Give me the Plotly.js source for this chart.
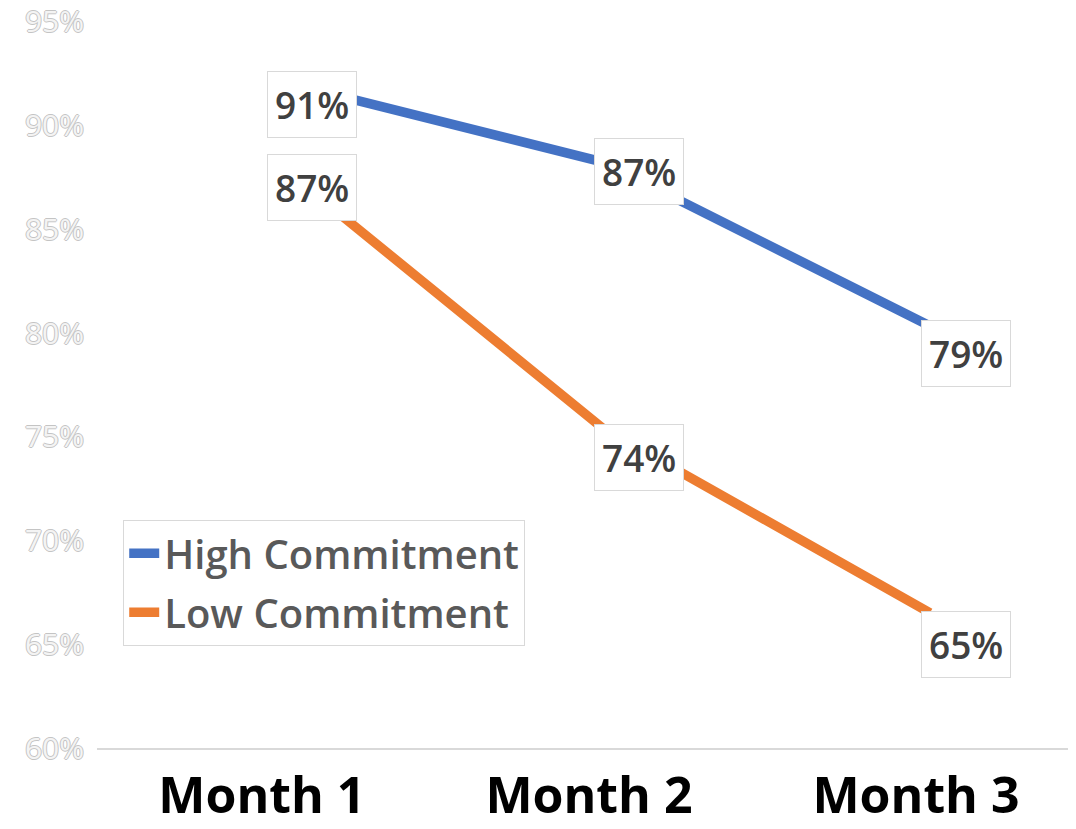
<!DOCTYPE html>
<html>
<head>
<meta charset="utf-8">
<script src="https://cdn.plot.ly/plotly-3.0.1.min.js"></script>
<style>
  html, body { margin: 0; padding: 0; background: #ffffff; }
  #chart { width: 1076px; height: 829px; }
</style>
</head>
<body>
<div id="chart"></div>
<script>
// ---- data ----
const categories = ['Month 1', 'Month 2', 'Month 3'];
const highCommitment = [0.91, 0.87, 0.79];
const lowCommitment = [0.87, 0.74, 0.65];
const seriesNames = ['High Commitment', 'Low Commitment'];
const yTickMin = 0.60;
const yTickStep = 0.05;

// ---- styling ----
const BLUE = '#4472C4';
const ORANGE = '#ED7D31';
const FONT = 'Open Sans, Liberation Sans, sans-serif';

const traces = [
  {
    type: 'scatter', mode: 'lines', name: seriesNames[0],
    x: categories, y: highCommitment, xaxis: 'x', yaxis: 'y',
    line: { color: BLUE, width: 9.5 }, legendgroup: 'a', hoverinfo: 'skip'
  },
  {
    type: 'scatter', mode: 'lines', name: seriesNames[1],
    x: categories, y: lowCommitment, xaxis: 'x', yaxis: 'y',
    line: { color: ORANGE, width: 9.5 }, legendgroup: 'b', hoverinfo: 'skip'
  }
];

function label(cat, val, extraY) {
  return {
    x: cat, y: val, xref: 'x', yref: 'y2',
    text: Math.round(val * 100) + '%',
    showarrow: false, xshift: 36, yshift: extraY || 0,
    bgcolor: '#ffffff', bordercolor: '#d9d9d9', borderwidth: 1, borderpad: 7,
    font: { family: FONT, size: 37, color: '#404040', weight: 600 }
  };
}
const annotations = [];
categories.forEach((c, i) => {
  annotations.push(label(c, highCommitment[i], i === 1 ? 16 : 0));
  annotations.push(label(c, lowCommitment[i], 0));
});

const layout = {
  width: 1076, height: 829,
  margin: { l: 97, r: 8, t: 0, b: 81 },
  paper_bgcolor: '#ffffff', plot_bgcolor: '#ffffff',
  showlegend: true,
  legend: {
    x: 0.027, y: 0.305, xanchor: 'left', yanchor: 'top',
    bgcolor: '#ffffff', bordercolor: '#d9d9d9', borderwidth: 1,
    font: { family: FONT, size: 40, color: '#595959', weight: 600 },
    itemwidth: 30, traceorder: 'grouped', tracegroupgap: 4
  },
  xaxis: {
    type: 'category', range: [-0.547, 2.422],
    showgrid: false, zeroline: false,
    showline: true, linecolor: '#d9d9d9', linewidth: 2,
    ticks: '', ticklabelstandoff: 3, ticklabelshift: -14,
    tickfont: { family: FONT, size: 50, color: '#000000', weight: 700 }
  },
  yaxis: {
    visible: false, range: [0.5840, 0.9491], fixedrange: true
  },
  yaxis2: {
    overlaying: 'y', side: 'left', anchor: 'x',
    range: [yTickMin, 0.9606],
    tick0: yTickMin, dtick: yTickStep, tickformat: '.0%',
    showgrid: false, zeroline: false, showline: false, ticks: '',
    ticklabelstandoff: 12,
    tickfont: {
      family: FONT, size: 30, color: '#f4f4f4',
      shadow: '1px 0 0 #c4c4c4, -1px 0 0 #c4c4c4, 0 1px 0 #c4c4c4, 0 -1px 0 #c4c4c4'
    }
  },
  annotations: annotations
};

Plotly.newPlot('chart', traces, layout, { displayModeBar: false, staticPlot: true });
</script>
</body>
</html>
